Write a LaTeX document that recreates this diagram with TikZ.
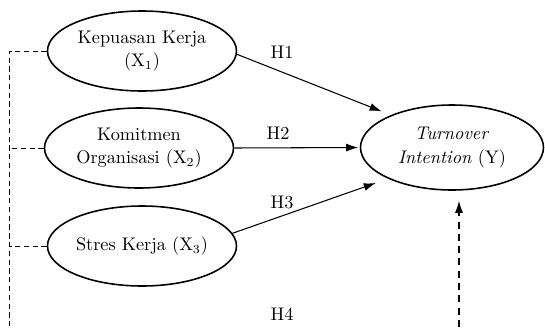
\documentclass[tikz,border=0pt]{standalone}
\usetikzlibrary{shapes.geometric, arrows.meta}
\begin{document}
\begin{tikzpicture}[
            variabel/.style = {ellipse, draw, line width = 0.9pt, inner sep = 0pt,
                               minimum width = 3.78cm, minimum height = 1.6cm,
                               align = center, font = \fontsize{10.4}{13.6}\selectfont},
            panah/.style = {-{Latex[length = 2.4mm, width = 1.6mm]}, line width = 0.6pt},
            hipotesis/.style = {font = \fontsize{10.4}{12}\selectfont}
        ]
            \useasboundingbox (0.0, 0.0) rectangle (10.9, 6.54);

            \node [variabel] (kepuasan) at (2.84, 5.52) {Kepuasan Kerja\\(X$_1$)};
            \node [variabel] (komitmen) at (2.78, 3.58) {Komitmen\\Organisasi (X$_2$)};
            \node [variabel] (stres) at (2.84, 1.62) {Stres Kerja (X$_3$)};
            \node [variabel, minimum width = 3.66cm, minimum height = 1.7cm]
                  (turnover) at (9.04, 3.59) {\textit{Turnover}\\\textit{Intention} (Y)};

            \node [hipotesis] (h1) at (5.64, 5.50) {H1};
            \node [hipotesis] (h2) at (5.56, 3.88) {H2};
            \node [hipotesis] (h3) at (5.64, 2.50) {H3};
            \node [hipotesis] (h4) at (5.64, 0.26) {H4};

            \draw [panah, shorten > = 0.2cm] (kepuasan.-2) -- (turnover.152); % X1 -> Y
            \draw [panah, shorten > = 0.03cm] (komitmen.east) -- (turnover.west); % X2 -> Y
            \draw [panah, shorten > = 0.26cm] (stres.8) -- (turnover.206); % X3 -> Y

            % garis moderasi bawah
            \coordinate (kiri) at (0.186, 0.0);
            \coordinate (kanan) at (9.18, 0.0);
            \draw [dashed, dash pattern = on 3pt off 2pt, line width = 0.5pt]
                  (kepuasan.west) -| (kiri);
            \draw [dashed, dash pattern = on 3pt off 2pt, line width = 0.5pt]
                  (komitmen.west) -- (komitmen.west -| kiri);
            \draw [dashed, dash pattern = on 3pt off 2pt, line width = 0.5pt]
                  (stres.west) -- (stres.west -| kiri);
            \draw [panah, dash pattern = on 4pt off 3pt, shorten > = 0.2cm]
                  (kanan) -- (kanan |- turnover.south); % H4 -> Y
        \end{tikzpicture}
\end{document}
